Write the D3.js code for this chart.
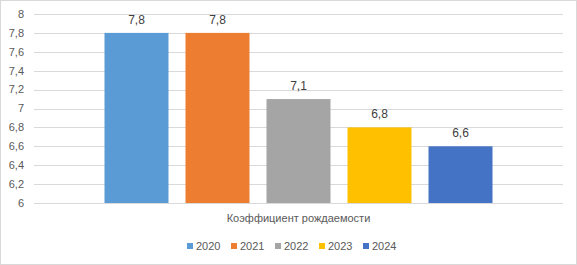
<!DOCTYPE html>
<html><head><meta charset="utf-8">
<script src="https://cdn.jsdelivr.net/npm/d3@7"></script>
<style>body{margin:0;background:#fff;}svg{display:block;font-family:"Liberation Sans",Arial,sans-serif;}</style>
</head><body><svg id="c" width="577" height="265"></svg>
<script>
const categories = ["Коэффициент рождаемости"];
const series = ["2020","2021","2022","2023","2024"];
const values = [7.8, 7.8, 7.1, 6.8, 6.6];
const labels = ["7,8","7,8","7,1","6,8","6,6"];
const colors = ["#5B9BD5","#ED7D31","#A5A5A5","#FFC000","#4472C4"];
const yTicks = [6,6.2,6.4,6.6,6.8,7,7.2,7.4,7.6,7.8,8];

const svg = d3.select("#c");
svg.append("rect").attr("x",0.5).attr("y",0.5).attr("width",576).attr("height",264)
  .attr("fill","#fff").attr("stroke","#D9D9D9");

const pL=34, pR=563, pT=14, pB=203;
const y = d3.scaleLinear().domain([6,8]).range([pB,pT]);
const x0 = d3.scaleBand().domain(categories).range([pL,pR]).paddingInner(0).paddingOuter(0.1817);
const x1 = d3.scaleBand().domain(series).range([0,x0.bandwidth()]).paddingInner(0.21).paddingOuter(0.0);

const fmt = d => String(d).replace(".",",");
const g = svg.append("g");
g.selectAll("line.grid").data(yTicks).join("line")
  .attr("x1",pL).attr("x2",pR).attr("y1",d=>Math.round(y(d))+0.5).attr("y2",d=>Math.round(y(d))+0.5)
  .attr("stroke","#D9D9D9").attr("stroke-width",1);
g.selectAll("text.tick").data(yTicks).join("text")
  .attr("x",24).attr("y",d=>y(d)).attr("dy","0.35em").attr("text-anchor","end")
  .attr("font-size",11).attr("fill","#595959").text(fmt);

const bars = svg.append("g").attr("transform",`translate(${x0(categories[0])},0)`);
bars.selectAll("rect").data(values).join("rect")
  .attr("x",(d,i)=>x1(series[i])).attr("width",x1.bandwidth())
  .attr("y",d=>y(d)).attr("height",d=>y(6)-y(d)).attr("fill",(d,i)=>colors[i]);
bars.selectAll("text").data(values).join("text")
  .attr("x",(d,i)=>x1(series[i])+x1.bandwidth()/2).attr("y",d=>y(d)-9)
  .attr("text-anchor","middle").attr("font-size",12).attr("fill","#404040").text((d,i)=>labels[i]);

svg.append("text").attr("x",x0(categories[0])+x0.bandwidth()/2).attr("y",222)
  .attr("text-anchor","middle").attr("font-size",11).attr("fill","#595959").text(categories[0]);

const lg = svg.append("g");
const lx = d3.scalePoint().domain(series).range([187,363]);
series.forEach((s,i)=>{
  lg.append("rect").attr("x",lx(s)).attr("y",243).attr("width",6).attr("height",6).attr("fill",colors[i]);
  lg.append("text").attr("x",lx(s)+9).attr("y",246).attr("dy","0.35em").attr("font-size",11).attr("fill","#595959").text(s);
});
</script></body></html>
